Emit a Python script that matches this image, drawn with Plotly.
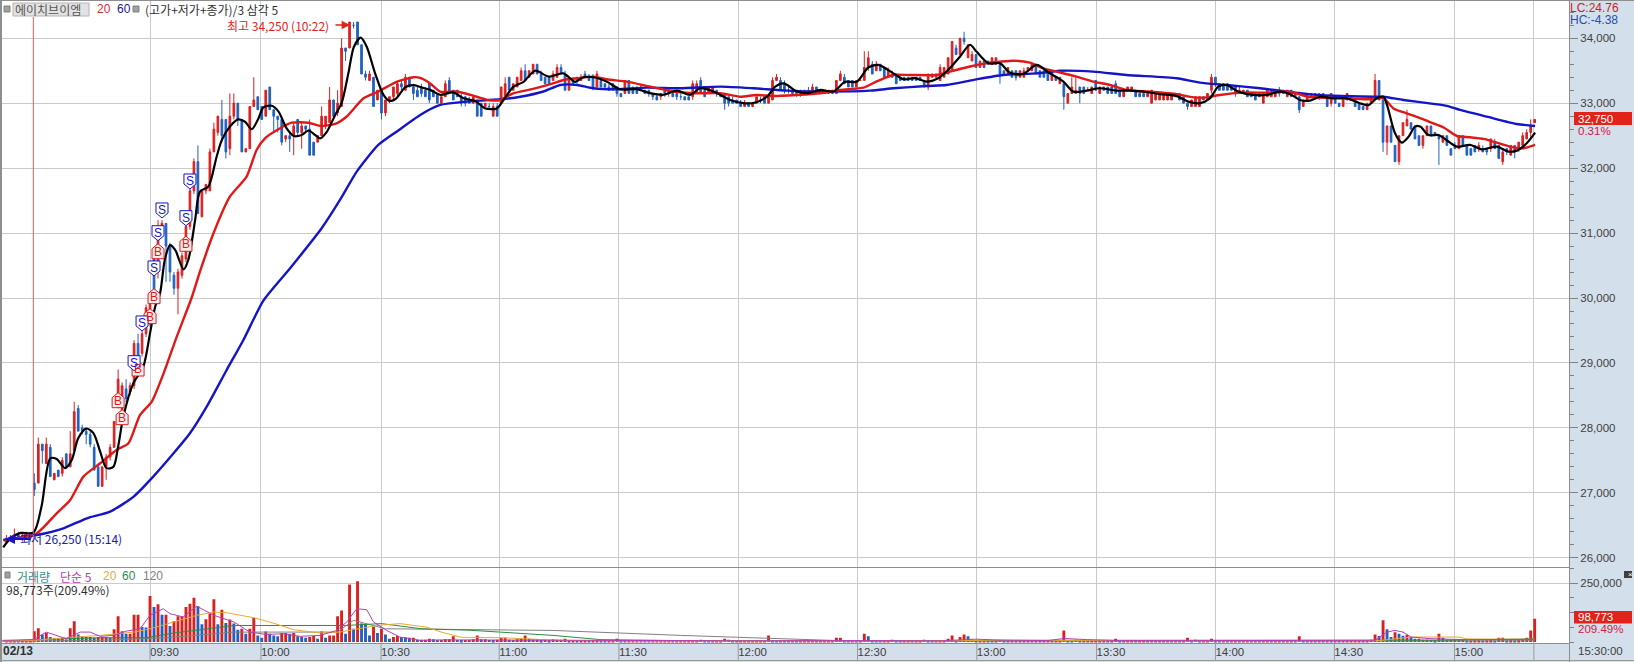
import plotly.graph_objects as go

# OHLC rows per half hour (open, high, low, close), one row per bar
bars_0900 = [
(26250,26350,26250,26300),(26300,26350,26250,26300),(26300,26450,26250,26350),(26350,26400,26300,26300),
(26300,26400,26250,26350),(26350,26400,26300,26350),(26350,26350,26250,26300),(27150,27300,26950,27050),
(27150,27850,27150,27750),(27750,27750,27450,27650),(27450,27850,27450,27750),(27700,27750,27250,27250),
(27200,27300,27200,27300),(27350,27350,27250,27250),(27300,27550,27250,27500),(27600,27600,27400,27400),
(27400,27950,27400,27600),(27650,28400,27650,28250),(28300,28350,27950,27950),(28000,28050,27900,27950),
(27950,28000,27750,27900),(27900,27950,27700,27750),(27700,27750,27350,27350),(27400,27400,27100,27100),
(27100,27400,27100,27400),(27400,27600,27200,27550),(27550,27750,27500,27700),(27700,28100,27700,28100),
(28350,28900,28300,28750),(28200,28700,28150,28650),(28600,28750,28400,28450),(28550,28700,28500,28650),
(28650,29350,28600,29300),(29300,29450,28850,29000),(29150,29500,29100,29450),(29450,29900,29400,29850),
]
bars_0930 = [
(29600,30000,29550,29900),(30600,30650,30000,30100),(30400,31200,30300,31000),(31050,31200,31000,31150),
(31150,31150,30250,30800),(30800,30850,30250,30400),(30350,30400,30050,30150),(30150,30450,29750,30400),
(30350,30700,30300,30650),(30600,31200,30550,31100),(31100,31700,31050,31650),(31650,32150,31600,32100),
(32100,32350,31300,31300),(31250,31650,31250,31650),(31650,31750,31600,31750),(31650,32300,31650,32250),
(32250,32700,32250,32600),(32550,32800,32500,32800),(32750,33050,32400,32500),(32750,32750,32150,32250),
(32300,33150,32200,32800),(32800,33150,32750,33000),(33000,33000,32650,32750),(32750,32750,32250,32250),
(32250,32300,32250,32300),(32300,32950,32300,32950),(32950,33400,32950,33050),(33100,33100,32900,32900),
]
bars_1000 = [
(32950,32950,32750,32750),(32800,33200,32800,33200),(33250,33250,32900,32900),(32900,32900,32550,32800),
(32800,32800,32550,32750),(32750,32750,32350,32400),(32450,32500,32400,32500),(32500,32550,32250,32450),
(32500,32700,32200,32650),(32750,32750,32500,32550),(32550,32700,32300,32650),(32650,32650,32550,32600),
(32600,32750,32200,32200),(32400,32400,32200,32200),(32400,32500,32400,32500),(32500,32950,32500,32800),
(32650,32800,32600,32800),(32700,33250,32700,33050),(33050,33050,32800,32800),(32850,33200,32800,33000),
(32950,34000,32950,33850),(33850,33850,33650,33800),(33850,34250,33850,34250),(34200,34250,34150,34200),
(34250,34250,33900,33900),(33900,33900,33450,33450),(33450,33500,33350,33400),(33350,33500,33350,33450),
(33400,33400,32950,32950),(33050,33200,33050,33200),
]
bars_1030 = [
(33200,33200,32750,32850),(32850,33050,32800,33050),(33050,33100,33000,33100),(33100,33250,33050,33250),
(33150,33350,33100,33300),(33300,33350,33200,33250),(33200,33450,33200,33400),(33400,33400,33250,33250),
(33250,33300,33050,33150),(33200,33250,33100,33100),(33250,33300,33100,33150),(33200,33250,33100,33100),
(33300,33300,33000,33050),(33200,33200,33100,33100),(33150,33150,33000,33000),(33000,33100,33000,33100),
(33100,33350,33100,33300),(33350,33400,33150,33150),(33200,33200,33050,33050),(33200,33200,33100,33100),
(33100,33150,32950,33000),(33100,33100,32950,33000),(33050,33100,33000,33000),(33000,33100,33000,33100),
(33050,33050,32800,32800),(33000,33000,32800,32800),(32950,33000,32950,33000),(32950,33000,32900,32950),
(32800,33000,32800,32950),(32950,33000,32800,32800),
]
bars_1100 = [
(33000,33250,33000,33250),(33100,33400,33100,33300),(33400,33400,33200,33200),(33200,33300,33200,33300),
(33250,33400,33250,33400),(33350,33550,33350,33500),(33500,33600,33350,33350),(33400,33500,33400,33500),
(33450,33600,33450,33600),(33600,33600,33450,33450),(33450,33500,33350,33350),(33400,33400,33300,33300),
(33400,33400,33300,33300),(33350,33500,33350,33450),(33400,33600,33400,33550),(33550,33600,33450,33450),
(33450,33500,33200,33200),(33200,33350,33200,33350),(33350,33400,33300,33300),(33400,33400,33300,33350),
(33350,33450,33350,33400),(33450,33500,33400,33400),(33400,33450,33350,33350),(33400,33450,33200,33250),
(33250,33500,33250,33450),(33350,33350,33250,33250),(33300,33300,33200,33250),(33250,33300,33200,33200),
(33300,33300,33200,33200),(33250,33250,33100,33150),
]
bars_1130 = [
(33150,33150,33100,33100),(33150,33350,33150,33350),(33350,33350,33150,33150),(33250,33250,33150,33150),
(33250,33250,33150,33150),(33200,33300,33200,33250),(33200,33200,33150,33150),(33200,33200,33100,33150),
(33150,33150,33050,33100),(33100,33150,33050,33050),(33100,33150,33050,33150),(33200,33200,33100,33150),
(33150,33250,33100,33200),(33150,33150,33100,33100),(33150,33150,33050,33100),(33100,33150,33050,33100),
(33100,33100,33050,33050),(33100,33100,33050,33050),(33100,33350,33050,33300),(33150,33350,33150,33300),
(33350,33400,33150,33150),(33200,33250,33100,33100),(33150,33250,33150,33250),(33150,33250,33150,33250),
(33200,33200,33100,33150),(33150,33150,33100,33100),(33150,33150,32900,33000),(33100,33100,32950,33000),
(33050,33100,33000,33000),(33050,33050,33000,33000),
]
bars_1200 = [
(33000,33050,32950,32950),(32950,33050,32950,33000),(33000,33000,32950,32950),(32950,33000,32950,33000),
(33000,33100,33000,33100),(33050,33100,33000,33050),(33100,33100,33000,33000),(33000,33100,33000,33100),
(33050,33400,33050,33350),(33350,33450,33350,33400),(33350,33400,33200,33200),(33300,33350,33150,33200),
(33200,33250,33150,33200),(33200,33200,33150,33150),(33200,33200,33100,33150),(33200,33200,33100,33150),
(33150,33200,33150,33200),(33200,33250,33150,33150),(33150,33300,33150,33250),(33250,33250,33150,33150),
(33200,33200,33150,33150),(33150,33200,33150,33200),(33200,33200,33150,33150),(33200,33200,33150,33150),
(33150,33350,33150,33350),(33350,33500,33350,33450),(33400,33450,33300,33300),(33350,33350,33250,33250),
(33350,33350,33250,33250),(33250,33350,33250,33350),
]
bars_1230 = [
(33350,33400,33350,33350),(33350,33800,33350,33550),(33550,33800,33500,33700),(33600,33650,33450,33450),
(33500,33650,33500,33600),(33600,33600,33500,33500),(33550,33550,33400,33400),(33400,33550,33400,33500),
(33450,33500,33400,33400),(33450,33450,33300,33300),(33400,33400,33350,33350),(33400,33400,33350,33350),
(33400,33400,33350,33350),(33400,33400,33350,33350),(33400,33400,33350,33350),(33400,33400,33350,33350),
(33350,33350,33250,33250),(33250,33450,33200,33450),(33400,33450,33400,33450),(33400,33450,33400,33450),
(33350,33600,33350,33550),(33400,33550,33400,33550),(33450,33700,33450,33700),(33500,33950,33500,33950),
(33850,33900,33750,33750),(33750,34000,33750,34000),(34000,34100,33900,33950),(33700,33900,33700,33900),
(33650,33800,33650,33750),(33750,33750,33550,33550),
]
bars_1300 = [
(33550,33650,33550,33650),(33650,33650,33550,33550),(33650,33650,33600,33600),(33600,33700,33600,33700),
(33600,33700,33600,33700),(33600,33600,33300,33450),(33500,33500,33450,33450),(33450,33550,33450,33550),
(33500,33500,33400,33400),(33500,33500,33350,33400),(33400,33500,33400,33500),(33400,33550,33400,33500),
(33500,33550,33500,33550),(33500,33600,33500,33600),(33600,33600,33450,33450),(33500,33500,33400,33400),
(33500,33500,33400,33400),(33500,33500,33350,33350),(33350,33500,33350,33500),(33400,33400,33350,33350),
(33300,33400,33300,33400),(33300,33300,32900,33100),(33000,33150,33000,33150),(33150,33400,33150,33250),
(33150,33400,33150,33200),(33250,33250,33000,33150),(33250,33250,33150,33150),(33200,33250,33200,33200),
(33150,33250,33150,33250),(33350,33350,33200,33200),
]
bars_1330 = [
(33150,33250,33150,33250),(33250,33250,33200,33200),(33250,33250,33150,33150),(33250,33250,33150,33150),
(33300,33350,33150,33150),(33200,33200,33100,33100),(33100,33200,33100,33200),(33200,33250,33200,33250),
(33200,33250,33200,33250),(33200,33200,33100,33100),(33150,33150,33100,33100),(33150,33150,33100,33100),
(33100,33200,33100,33150),(33000,33200,33000,33200),(33050,33150,33050,33150),(33050,33150,33050,33150),
(33050,33150,33050,33150),(33050,33150,33050,33150),(33050,33150,33050,33150),(33100,33150,33100,33150),
(33150,33150,33050,33050),(33100,33100,33000,33000),(33000,33000,32900,32950),(32950,33050,32950,33050),
(32950,33100,32950,33100),(32950,33100,32950,33100),(33100,33100,33050,33050),(33050,33150,33050,33150),
(33200,33450,33150,33400),(33400,33400,33250,33300),
]
bars_1400 = [
(33300,33300,33200,33200),(33300,33300,33200,33200),(33300,33300,33200,33200),(33250,33250,33200,33200),
(33250,33250,33100,33150),(33150,33250,33150,33200),(33150,33200,33150,33200),(33200,33200,33100,33100),
(33150,33150,33100,33100),(33150,33150,33050,33050),(33100,33150,33100,33150),(33000,33150,33000,33150),
(33100,33200,33100,33200),(33100,33200,33100,33200),(33100,33200,33100,33200),(33200,33250,33100,33150),
(33200,33200,33150,33150),(33100,33200,33100,33200),(33200,33200,33100,33100),(33100,33150,33100,33150),
(33100,33100,32850,32900),(32950,33050,32950,33050),(33050,33150,33050,33150),(33100,33150,33100,33150),
(33100,33150,33100,33150),(33150,33150,33050,33100),(33100,33150,33100,33150),(33100,33100,32950,32950),
(33000,33150,32950,33150),(33100,33100,33000,33000),
]
bars_1430 = [
(33000,33000,32950,32950),(32950,33100,32950,33100),(33050,33150,33050,33150),(33050,33100,33050,33100),
(33050,33050,32950,32950),(33000,33000,32900,32900),(32950,32950,32900,32900),(32900,33000,32900,33000),
(33000,33100,33000,33100),(33100,33450,33050,33350),(33350,33350,33050,33050),(33050,33050,32250,32400),
(32400,32650,32200,32650),(32650,32650,32400,32400),(32350,32350,32100,32100),(32100,32500,32050,32500),
(32500,32700,32500,32700),(32650,32900,32650,32750),(32700,32700,32600,32600),(32650,32650,32450,32450),
(32500,32500,32350,32350),(32350,32500,32300,32500),(32500,32650,32500,32650),(32650,32650,32500,32500),
(32550,32550,32500,32500),(32500,32500,32050,32450),(32400,32500,32400,32500),(32500,32500,32350,32350),
(32300,32300,32200,32200),(32350,32400,32300,32300),
]
bars_1500 = [
(32300,32500,32300,32500),(32500,32500,32350,32350),(32350,32350,32200,32200),(32300,32300,32200,32200),
(32350,32350,32250,32250),(32300,32400,32250,32350),(32300,32350,32250,32250),(32300,32300,32200,32250),
(32300,32450,32250,32450),(32400,32450,32300,32300),(32350,32350,32150,32150),(32100,32300,32050,32250),
(32300,32300,32200,32250),(32200,32350,32200,32350),(32350,32350,32150,32250),(32300,32400,32250,32400),
(32350,32550,32350,32500),(32450,32600,32450,32550),(32550,32750,32450,32650),(32700,32750,32700,32750),
]

volumes = [
5000,5000,6000,5000,5000,5000,6000,46000,58000,32000,
38000,21000,17000,14000,17000,11000,58000,88000,32000,24000,
21000,21000,18000,21000,21000,21000,18000,54000,109000,46000,
35000,35000,116000,116000,64000,61000,195000,148000,160000,116000,
116000,68000,88000,109000,109000,148000,162000,188000,151000,75000,
96000,120000,181000,75000,137000,80000,95000,78000,52000,56000,
35000,56000,102000,28000,18000,45000,35000,28000,24000,38000,
38000,35000,38000,24000,21000,18000,21000,25000,14000,45000,
18000,28000,28000,109000,134000,35000,244000,56000,257000,78000,
75000,28000,66000,38000,56000,32000,14000,21000,25000,21000,
20000,18000,18000,10000,10000,10000,14000,12000,9000,9000,
12000,12000,24000,9000,8000,9000,10000,12000,28000,12000,
12000,9000,8000,10000,18000,18000,10000,9000,12000,14000,
28000,14000,12000,12000,8000,10000,8000,12000,10000,10000,
14000,8000,8000,7000,7000,7000,6000,6000,8000,7000,
6000,6000,7000,14000,6000,5000,5000,6000,6000,5000,
5000,4000,4000,5000,5000,5000,5000,4000,4000,4000,
4000,4000,5000,5000,10000,5000,4000,4000,4000,5000,
14000,10000,5000,4000,4000,4000,4000,4000,5000,5000,
6000,28000,8000,7000,7000,6000,5000,5000,4000,4000,
4000,5000,5000,4000,4000,4000,4000,5000,18000,18000,
6000,5000,6000,5000,7000,35000,24000,8000,6000,5000,
5000,5000,10000,5000,4000,5000,7000,4000,4000,5000,
10000,5000,4000,5000,5000,7000,14000,28000,8000,21000,
32000,24000,10000,7000,7000,8000,7000,5000,6000,10000,
6000,5000,5000,4000,5000,4000,5000,4000,5000,4000,
4000,6000,4000,5000,5000,49000,6000,5000,10000,5000,
5000,4000,4000,5000,4000,5000,4000,5000,14000,5000,
4000,5000,5000,4000,4000,5000,4000,5000,4000,5000,
4000,5000,4000,5000,4000,5000,18000,5000,10000,4000,
5000,5000,14000,6000,5000,5000,4000,4000,5000,4000,
4000,5000,4000,4000,3000,4000,5000,4000,4000,5000,
4000,5000,8000,5000,24000,7000,6000,6000,5000,5000,
4000,5000,4000,5000,4000,5000,4000,5000,8000,8000,
5000,7000,10000,32000,25000,92000,54000,21000,41000,35000,
27000,31000,21000,14000,14000,10000,10000,9000,8000,35000,
18000,10000,10000,9000,9000,9000,6000,6000,7000,7000,
6000,7000,8000,6000,18000,18000,7000,8000,7000,8000,
9000,18000,49000,98773,
]

black_k = [0.2,2,4.4,7.8,9.8,12,13.6,15.7,17.4,19,21,22.8,24.5,26.1,27.8,29,30.3,32.8,35.3,37,38.3,39.5,40.7,42,43.3,45.4,46.6,48.3,49.5,51.6,53.7,55,57,59.1,60.8,62.5,64.2,65.4,67.5,69.2,71.2,73,75,76.7,78.4,79.6,81.3,83.4,85,86.7,88.1,89.8,91.3,93.4,95.5,97.1,98.8,100.9,103,104.7,107.2,109.7,113,115.6,118.5,121,123.9,125.6,128.1,130.6,133.5,136.9,140.6,143.5,145.6,148.1,151.5,154.8,159,162.3,165.7,169,172.4,174.9,178.2,182.4,185.7,188.7,191.6,193.7,195.8,199.1,202,205,208.3,211.2,214.1,217,219.5,223.3,225.8,228.7,231.6,234.5,237,240,242.5,244.1,247.1,250,252.5,255.8,259.2,262.5,265.9,268.4,271.7,275,279.2,282.6,285.9,290.1,294.3,297.2,300.1,302.6,304.7,306.8,309.7,313.5,316.8,320.2,323.1,325.2,327.7,330.2,333.6,336.9,340.2,342.3,344.4,346.1,347.1,349,350.7,352.4,354,355.3,357.4,359.9,362.4,364.5,367.8,370.7,374.5,377.4,379.5,382,384.1]
black_p = [26160,26300,26380,26390,26790,27530,27520,27380,27510,27840,27990,27920,27635,27380,27400,27710,28170,28685,28940,29460,29870,30070,30590,30815,30740,30440,30590,31200,31640,31715,32180,32435,32640,32750,32715,32600,32770,32935,32960,32870,32615,32495,32510,32580,32510,32460,32560,32820,33000,33460,33870,34010,33870,33460,33130,33035,33080,33245,33280,33250,33205,33130,33165,33075,33035,32920,32920,33050,33255,33330,33500,33410,33460,33330,33400,33400,33330,33215,33215,33155,33130,33195,33130,33230,33180,33050,33000,33010,33100,33255,33305,33180,33155,33205,33180,33330,33330,33550,33590,33460,33370,33385,33333,33385,33512,33720,33900,33795,33615,33615,33470,33450,33590,33460,33333,33178,33194,33230,33194,33194,33178,33140,33110,33025,33000,33075,33255,33280,33178,33127,33127,33178,33127,33050,33040,33100,33075,33075,33000,32970,33075,33100,32950,32537,32393,32485,32640,32640,32510,32510,32410,32331,32357,32290,32331,32255,32270,32383,32547]
red_k = [0.5,8.6,13.6,17,20.3,24.5,28.6,31.6,34.5,37.4,40.4,43.7,47.4,49.5,52.9,57,61.2,63.7,65.8,69.6,72.5,76.7,79.6,83.4,86.3,90.5,94.2,98.8,103,104.7,107.2,109.7,113.9,118.9,121.8,124.7,128,133,138,140.6,144,148.1,151.5,156.5,162.3,168.2,173.2,179.9,184.9,189,193.3,199.1,205,210,215.8,219,223.3,227.4,234.1,237.5,242.5,247.5,250,253.3,257.5,260.8,264.2,269.2,273.4,277.6,281.7,287.6,294.3,298.5,301.8,305.1,311,316.8,322.7,327.3,336.1,341.9,346.1,348.6,351.9,355.3,358.6,361.1,364.5,367.8,371.2,374.5,377.8,381.2,384.1]
red_p = [26260,26377,26685,26890,27250,27455,27660,27763,28200,28400,28840,29405,30000,30406,30997,31560,31870,32280,32460,32614,32700,32700,32650,32680,32795,33075,33180,33330,33400,33390,33305,33180,33180,33100,33050,33050,33150,33220,33305,33358,33384,33410,33368,33332,33255,33180,33153,33153,33100,33127,33110,33127,33153,33205,33240,33333,33435,33435,33435,33487,33565,33625,33640,33655,33625,33538,33487,33410,33333,33280,33204,33178,33140,33090,33090,33127,33163,33163,33178,33100,33075,33060,33075,32920,32845,32770,32690,32630,32495,32475,32450,32393,32331,32306,32357]
blue_k = [0.2,8.6,15.3,21.2,27,32.9,37.8,42.9,47,51.2,56.2,60.4,65.4,72.1,80,84.6,88.8,94.2,98.8,104.7,109.7,113.9,119.7,124.7,129.8,135.6,139.8,144,148.1,154,161.5,169.9,179.9,188.2,196.6,205,217.5,223.3,231.6,236.6,244.1,250.8,259.2,265,273.4,281.7,294.3,300.1,306.8,315.2,327.3,333.6,343.6,346.1,351.1,358.6,362,365.3,372,379.5,384.1]
blue_p = [26274,26350,26454,26608,26710,26942,27250,27609,27917,28327,28892,29354,29960,30458,31074,31510,31947,32357,32562,32819,32973,33009,33040,33060,33100,33180,33281,33281,33230,33215,33240,33230,33255,33230,33194,33180,33194,33230,33265,33280,33368,33435,33460,33500,33487,33435,33385,33317,33280,33230,33140,33115,33100,33100,33050,32990,32958,32896,32793,32680,32650]

vol5_k = [0,7.8,11,16,19.5,22,24.5,28,31,34.5,37,40.3,42,45.3,48.7,53,58,62,66,70.4,74.6,79.6,83.8,86.3,88.8,91.3,93,96.3,99.6,104.7,110,125,140,160,185,215,235,244,250,262,266,272,280,300,320,340,344,347,349,351,353,358,366,384]
vol5_v = [7000,10000,42000,14000,42000,42000,24000,28000,46000,56000,113000,141000,120000,106000,152000,113000,85000,42000,32000,35000,24000,28000,49000,85000,141000,137000,85000,49000,21000,7000,9000,8000,7000,6000,5000,6000,5000,12000,8000,6000,15000,10000,6000,6000,6000,6000,7000,42000,49000,42000,21000,14000,10000,11000]
vol20_k = [0,7.8,16,24.5,33,37,43,48.7,53,56.2,63,67,73,79.6,84.6,88.8,93.8,99.6,106.3,110,115,125,140,160,200,235,250,262,300,345,353,365,367,384]
vol20_v = [4000,7000,18000,28000,42000,56000,85000,113000,127000,124000,103000,85000,52000,38000,42000,56000,70000,78000,63000,42000,20000,18000,7000,4000,4000,5000,8000,7000,5000,6000,21000,21000,13000,11000]
vol60_k = [0,7.8,24.5,36,43,51.2,58,86,95,105,117,138,150,170,210,260,290,320,360,384]
vol60_v = [3000,10000,18000,18000,38000,56000,70000,70000,78000,56000,50000,28000,10000,6000,5000,7000,7000,5000,8000,13000]
vol120_k = [0,24.5,41,58,84,88,96,113,138,170,213,270,384]
vol120_v = [3000,7000,18000,42000,42000,92000,56000,52000,49000,28000,4000,4000,5000]

sell_k = [35,33,38,39,40,46,47]
sell_p = [29616,29004,30463,31006,31356,31237,31802]
buy_k = [34,29,30,37,38,39,46]
buy_p = [28907,28419,28157,29713,30021,30713,30828]

grid_k = [37,64.8,94.9,124.5,154.5,184.4,214.3,244.2,274.2,304,333.8,363.9,383.8]
grid_labels = ["09:30","10:00","10:30","11:00","11:30","12:00","12:30","13:00","13:30","14:00","14:30","15:00",""]
open_line_k = 7.75
price_ticks = [26000,27000,28000,29000,30000,31000,32000,33000,34000]
volume_ticks = [250000]

RED = "#E2231A"; UP = "#D92020"; DOWN = "#2060C0"; PANEL = "#D4DFEC"; GRID = "#CBCBCB"; FRAME = "#8E8E8E"
FONT = "Liberation Sans, Noto Sans CJK KR, sans-serif"
KR = "Noto Sans CJK KR, Liberation Sans, sans-serif"

rows = bars_0900 + bars_0930 + bars_1000 + bars_1030 + bars_1100 + bars_1130 + bars_1200 + bars_1230 + bars_1300 + bars_1330 + bars_1400 + bars_1430 + bars_1500
k_all = list(range(1, len(rows) + 1))
opens = [r[0] for r in rows]; highs = [r[1] for r in rows]; lows = [r[2] for r in rows]; closes = [r[3] for r in rows]
# a volume bar is red when it is at least as large as the previous bar, blue otherwise
vol_colors = [UP if v >= p else DOWN for v, p in zip(volumes, [0] + volumes[:-1])]

fig = go.Figure()
fig.add_trace(go.Bar(x=k_all, y=volumes, marker=dict(color=vol_colors, line_width=0), width=0.72, xaxis="x", yaxis="y"))
for xs, ys, col in [(vol120_k, vol120_v, "#808080"), (vol60_k, vol60_v, "#2E8B3E"), (vol20_k, vol20_v, "#E8A830"), (vol5_k, vol5_v, "#B83CB8")]:
    fig.add_trace(go.Scatter(x=xs, y=ys, mode="lines", line=dict(color=col, width=1), xaxis="x", yaxis="y"))
fig.add_trace(go.Candlestick(x=k_all, open=opens, high=highs, low=lows, close=closes,
    increasing=dict(line=dict(color=UP, width=1), fillcolor=UP),
    decreasing=dict(line=dict(color=DOWN, width=1), fillcolor=DOWN),
    whiskerwidth=0, xaxis="x2", yaxis="y2"))
fig.add_trace(go.Scatter(x=blue_k, y=blue_p, mode="lines", line=dict(color="#1414C8", width=2.4, shape="spline", smoothing=0.6), xaxis="x2", yaxis="y2"))
fig.add_trace(go.Scatter(x=red_k, y=red_p, mode="lines", line=dict(color="#E01818", width=2.4, shape="spline", smoothing=0.6), xaxis="x2", yaxis="y2"))
fig.add_trace(go.Scatter(x=black_k, y=black_p, mode="lines", line=dict(color="#000000", width=2.2, shape="spline", smoothing=0.8), xaxis="x2", yaxis="y2"))

W, H_PLOT = 1567, 642
def fx(px): return (px - 2) / W
def fy(py): return (643 - py) / H_PLOT

def txt(text, px, py, color, size=12, anchor="left", fam=FONT):
    return dict(text=text, x=fx(px), y=fy(py), xref="paper", yref="paper", xanchor=anchor, yanchor="middle",
                showarrow=False, font=dict(color=color, size=size, family=fam), borderpad=0, borderwidth=0)

anns = [
    txt("에이치브이엠", 15, 9.5, "#555555", 12, fam=KR),
    txt("20", 97, 9.5, "#D03030", 12),
    txt("60", 117, 9.5, "#202090", 12),
    txt("(고가+저가+종가)/3 삼각 5", 145, 9.5, "#303030", 12, fam=KR),
    txt("최고 34,250 (10:22)", 329, 25, RED, 12, anchor="right", fam=KR),
    txt("최저 26,250 (15:14)", 20, 538, "#2020B0", 12, fam=KR),
    txt("거래량", 17, 576, "#3C8C8C", 12, fam=KR),
    txt("단순 5", 60, 576, "#B040B0", 12, fam=KR),
    txt("20", 103, 576, "#D8B040", 12),
    txt("60", 122, 576, "#2E8B57", 12),
    txt("120", 143, 576, "#808080", 12),
    txt("98,773주(209.49%)", 6, 589, "#303030", 12, fam=KR),
    txt("<b>02/13</b>", 3, 651, "#303030", 12),
    txt("15:30:00", 1578, 651, "#404040", 11.5),
    txt("LC:24.76", 1570, 8, "#D02020", 12),
    txt("HC:-4.38", 1570, 20, "#2050B8", 12),
    txt("32,750", 1578, 118.5, "#FFFFFF", 11.5),
    txt("0.31%", 1578, 131, "#D02040", 11.5),
    txt("98,773", 1578, 617, "#FFFFFF", 11.5),
    txt("209.49%", 1578, 629, "#D02040", 11.5),
    txt("×", 1628, 574, "#FFFFFF", 8),
    dict(x=fx(350), y=fy(25), xref="paper", yref="paper", ax=-16, ay=0, axref="pixel", ayref="pixel",
         text="", showarrow=True, arrowhead=2, arrowsize=1.2, arrowwidth=1.4, arrowcolor=RED),
    dict(x=fx(5), y=fy(539), xref="paper", yref="paper", ax=27, ay=0, axref="pixel", ayref="pixel",
         text="", showarrow=True, arrowhead=2, arrowsize=1, arrowwidth=2, arrowcolor="#1414C8"),
]

def rect(x0, y0, x1, y1, fill, line=None):
    return dict(type="rect", xref="paper", yref="paper", x0=fx(x0), x1=fx(x1), y0=fy(y0), y1=fy(y1),
                fillcolor=fill, line=dict(color=line or fill, width=1 if line else 0), layer="above")
def hline(y, x0, x1, col=FRAME, w=1):
    return dict(type="line", xref="paper", yref="paper", x0=fx(x0), x1=fx(x1), y0=fy(y), y1=fy(y), line=dict(color=col, width=w), layer="above")
def vline(x, y0, y1, col=FRAME, w=1):
    return dict(type="line", xref="paper", yref="paper", x0=fx(x), x1=fx(x), y0=fy(y0), y1=fy(y1), line=dict(color=col, width=w), layer="above")

shapes = [
    rect(0, 0, 2, 662, FRAME), hline(0.5, 0, 1634), hline(567.5, 2, 1569), hline(643.5, 2, 1569), hline(660.5, 0, 1634, "#9A9A9A"),
    vline(1569.5, 0, 662),
    rect(13, 3, 89, 16, "#E2E2E2", "#B4B4B4"),
    rect(4, 6, 10, 12, "#A0A0A0", "#808080"),
    rect(133, 6, 139, 12, "#A0A0A0", "#808080"),
    rect(5, 572, 10, 578, "#A0A0A0", "#808080"),
    rect(1574, 112, 1632, 125, RED),
    rect(1574, 611, 1632, 623.5, RED),
    rect(1624, 571, 1632, 578, "#404040"),
    dict(type="line", xref="x2", yref="paper", x0=open_line_k, x1=open_line_k, y0=0, y1=fy(17), line=dict(color="#D86060", width=1), layer="above"),
]
for g in grid_k:
    shapes.append(dict(type="line", xref="x", yref="paper", x0=g, x1=g, y0=fy(643), y1=fy(660), line=dict(color="#9A9A9A", width=1), layer="above"))

# buy / sell flags: house-shaped tags fixed in pixels, anchored on the bar and price they mark
BUY_PATH = "M -6,-7 L 6,-7 L 6,3 L 0,8 L -6,3 Z"
SELL_PATH = "M -6,7 L 6,7 L 6,-3 L 0,-8 L -6,-3 Z"
for ks, ps, path, fill, col, letter in [(buy_k, buy_p, BUY_PATH, "#FFECEC", "#E01818", "B"), (sell_k, sell_p, SELL_PATH, "#FFFFFF", "#1414C8", "S")]:
    for k, p in zip(ks, ps):
        shapes.append(dict(type="path", xref="x2", yref="y2", xsizemode="pixel", ysizemode="pixel", xanchor=k, yanchor=p,
                           path=path, fillcolor=fill, line=dict(color=col, width=1), layer="above"))
        anns.append(dict(text=letter, x=k, y=p, xref="x2", yref="y2", showarrow=False, xanchor="center", yanchor="middle",
                         font=dict(color=col, size=12, family=FONT)))

x_range = [-0.1, 392.6]
fig.update_layout(
    width=1634, height=662, autosize=False, showlegend=False, paper_bgcolor=PANEL, plot_bgcolor="#FFFFFF",
    margin=dict(l=2, r=65, t=1, b=19, pad=0), font=dict(family=FONT, size=11, color="#404040"), boxgap=0.4, bargap=0.3,
    annotations=anns, shapes=shapes,
    xaxis=dict(domain=[0, 1], range=x_range, anchor="y", tickmode="array", tickvals=grid_k, ticktext=grid_labels, ticklabelposition="outside right",
               showgrid=True, gridcolor=GRID, gridwidth=1, zeroline=False, showline=False, ticks="", tickfont=dict(size=11.5, color="#404040"), rangeslider=dict(visible=False)),
    xaxis2=dict(domain=[0, 1], range=x_range, anchor="y2", tickmode="array", tickvals=grid_k, showticklabels=False,
                showgrid=True, gridcolor=GRID, gridwidth=1, zeroline=False, showline=False, ticks="", rangeslider=dict(visible=False)),
    yaxis=dict(domain=[0, 0.1176], range=[-4237, 315700], side="right", anchor="x", tickmode="array", tickvals=volume_ticks, tickformat=",",
               showgrid=True, gridcolor=GRID, zeroline=False, showline=False, ticks="outside", ticklen=8, tickcolor="#808080", tickfont=dict(size=11.5, color="#404040"),
               minor=dict(tickmode="linear", tick0=0, dtick=62500, ticks="outside", ticklen=4, tickcolor="#808080", showgrid=False)),
    yaxis2=dict(domain=[0.1184, 1], range=[25858, 34574], side="right", anchor="x2", tickmode="array", tickvals=price_ticks, tickformat=",",
                showgrid=True, gridcolor=GRID, zeroline=False, showline=False, ticks="outside", ticklen=8, tickcolor="#808080", tickfont=dict(size=11.5, color="#404040"),
                minor=dict(tickmode="linear", tick0=0, dtick=200, ticks="outside", ticklen=4, tickcolor="#808080", showgrid=False)),
)
fig.write_html("out.html", config={"displayModeBar": False}, post_script="document.body.style.margin='0';document.body.style.overflow='hidden';")
